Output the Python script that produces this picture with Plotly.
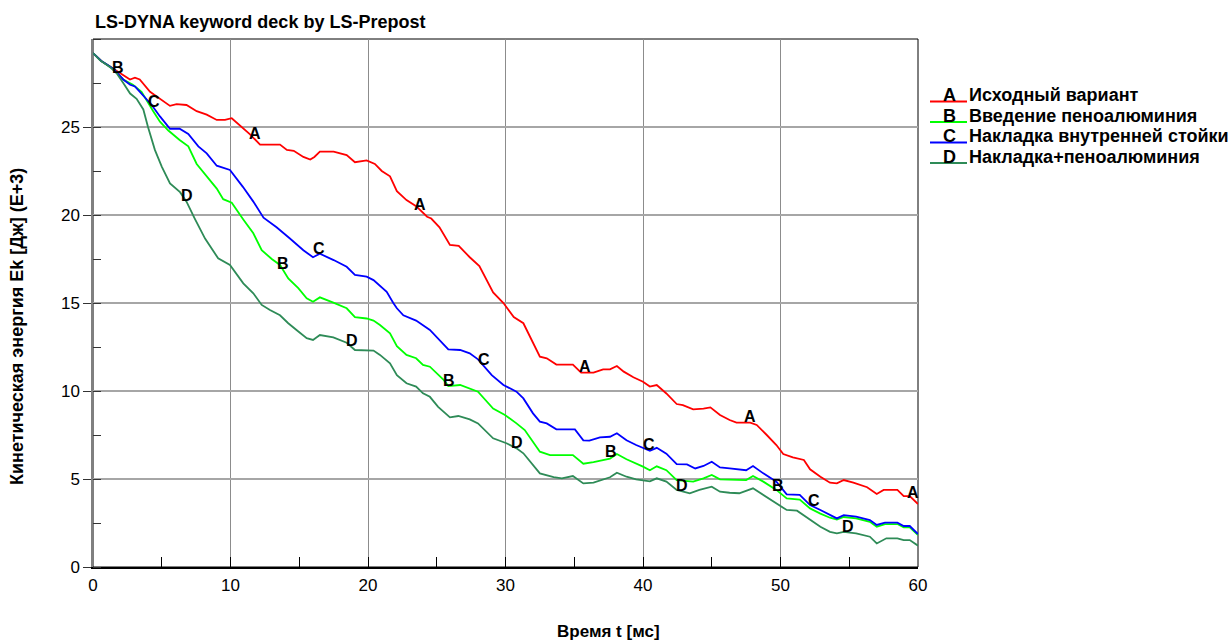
import numpy as np
import plotly.graph_objects as go

# Kinetic energy histories (E+3 J) vs time (ms) for four design variants
t_a = [0, 0.6, 1.2, 1.72, 2.69, 3.05, 3.4, 4.15, 4.87, 5.6, 6.08, 6.8, 7.54, 8.27, 9.0,
       9.6, 10.09, 10.7, 11.4, 12.15, 13.6, 14.1, 14.6, 15.3, 15.8, 16.1, 16.5, 17.5, 18.45, 19.05,
       19.9, 20.5, 21.0, 21.6, 22.1, 22.8, 23.5, 24.3, 24.6, 25.2, 25.96, 26.6, 27.4, 28.1, 29.1,
       29.85, 30.6, 31.3, 32.5, 33.0, 33.7, 34.9, 35.5, 36.4, 37.1, 37.6, 38.1, 38.6, 39.3, 40.0,
       40.5, 41.0, 41.7, 42.45, 42.9, 43.65, 44.4, 44.9, 45.6, 46.3, 46.8, 47.8, 48.27, 49.0, 49.7,
       50.2, 50.9, 51.7, 52.15, 52.9, 53.6, 54.1, 54.6, 55.3, 56.3, 57.0, 57.5, 58.5, 58.96, 59.4, 60]
e_a = [29.2, 28.75, 28.45, 28.2, 27.7, 27.8, 27.7, 27.0, 26.6, 26.2, 26.3, 26.25, 25.9, 25.7, 25.4,
       25.4, 25.5, 25.1, 24.6, 24.0, 24.0, 23.7, 23.65, 23.3, 23.15, 23.3, 23.6, 23.6, 23.4, 23.0,
       23.1, 22.9, 22.5, 22.2, 21.35, 20.85, 20.5, 19.9, 19.8, 19.3, 18.3, 18.25, 17.6, 17.1, 15.6,
       15.0, 14.2, 13.85, 11.95, 11.86, 11.5, 11.5, 11.04, 11.04, 11.23, 11.23, 11.42, 11.1, 10.78, 10.53,
       10.25, 10.34, 9.86, 9.26, 9.2, 8.96, 9.0, 9.07, 8.64, 8.35, 8.2, 8.2, 8.07, 7.5, 6.93,
       6.42, 6.23, 6.08, 5.55, 5.13, 4.79, 4.75, 4.94, 4.79, 4.53, 4.15, 4.38, 4.38, 4.03, 4.03, 3.58]

t_b = [0, 0.6, 1.2, 1.48, 2.2, 2.9, 3.53, 3.9, 4.38, 4.87, 5.48, 6.3, 6.93, 7.54, 8.27,
       9.0, 9.47, 10.09, 10.93, 11.66, 12.27, 13.0, 13.6, 14.2, 14.93, 15.54, 16.0, 16.5, 17.48, 18.45,
       19.05, 19.9, 20.4, 20.87, 21.6, 22.1, 22.8, 23.5, 24.0, 24.5, 25.5, 25.84, 26.7, 27.3, 28.0,
       29.1, 29.96, 30.8, 31.4, 32.5, 33.24, 34.9, 35.66, 36.4, 37.6, 38.1, 38.8, 40.0, 40.5, 41.0,
       41.7, 42.45, 43.65, 44.4, 45.0, 45.6, 47.5, 48.0, 48.75, 49.7, 50.45, 51.4, 52.15, 52.9, 53.6,
       54.1, 54.6, 55.5, 56.5, 57.0, 57.6, 58.5, 58.96, 59.4, 60]
e_b = [29.2, 28.75, 28.45, 28.3, 27.7, 27.4, 27.0, 26.5, 25.9, 25.3, 24.8, 24.26, 23.9, 22.9, 22.2,
       21.5, 20.9, 20.7, 19.75, 18.96, 18.0, 17.5, 17.16, 16.4, 15.84, 15.27, 15.07, 15.32, 15.02, 14.7,
       14.2, 14.12, 14.0, 13.75, 13.28, 12.55, 12.05, 11.86, 11.48, 11.38, 10.63, 10.28, 10.34, 10.15, 9.96,
       9.0, 8.64, 8.16, 7.78, 6.55, 6.36, 6.36, 5.87, 5.96, 6.16, 6.42, 6.12, 5.7, 5.5, 5.72,
       5.5, 4.94, 4.85, 5.04, 5.23, 4.98, 4.94, 5.17, 4.85, 4.38, 3.9, 3.83, 3.33, 3.03, 2.8,
       2.69, 2.84, 2.76, 2.57, 2.29, 2.44, 2.44, 2.25, 2.25, 1.82]

t_c = [0, 0.6, 1.2, 1.48, 2.2, 2.7, 3.05, 3.66, 4.27, 4.87, 5.6, 6.3, 6.93, 7.66, 8.27,
       9.0, 9.96, 10.9, 11.66, 12.4, 13.35, 14.3, 15.3, 16.0, 16.5, 17.5, 18.45, 19.05, 19.9, 20.4,
       20.87, 21.36, 21.84, 22.1, 22.57, 23.5, 24.5, 25.2, 25.84, 26.7, 27.4, 28.0, 29.0, 29.85, 30.8,
       31.3, 32.0, 32.5, 33.0, 33.7, 35.05, 35.66, 36.1, 36.87, 37.6, 38.1, 38.8, 39.5, 40.5, 41.0,
       41.7, 42.45, 43.2, 43.8, 44.4, 45.0, 45.6, 46.3, 47.5, 48.0, 48.75, 49.7, 50.45, 51.4, 52.15,
       52.9, 53.6, 54.1, 54.6, 55.5, 56.5, 57.0, 57.6, 58.5, 58.96, 59.4, 60]
e_c = [29.2, 28.75, 28.45, 28.3, 27.7, 27.4, 27.3, 26.8, 26.25, 25.6, 24.9, 24.9, 24.6, 23.9, 23.5,
       22.8, 22.56, 21.6, 20.76, 19.85, 19.3, 18.68, 18.0, 17.6, 17.8, 17.44, 17.06, 16.6, 16.5, 16.3,
       16.0, 15.64, 15.0, 14.7, 14.3, 14.0, 13.47, 12.9, 12.37, 12.33, 12.14, 11.8, 10.9, 10.34, 9.96,
       9.58, 8.73, 8.26, 8.16, 7.82, 7.82, 7.2, 7.18, 7.37, 7.4, 7.6, 7.2, 6.93, 6.6, 6.77,
       6.44, 5.85, 5.83, 5.6, 5.74, 5.98, 5.66, 5.6, 5.5, 5.74, 5.32, 4.85, 4.13, 4.1, 3.52,
       3.24, 2.95, 2.76, 2.95, 2.86, 2.67, 2.39, 2.52, 2.52, 2.33, 2.33, 1.87]

t_d = [0, 0.5, 1.24, 1.72, 2.2, 2.7, 3.17, 3.66, 4.0, 4.5, 5.0, 5.6, 6.33, 6.8, 7.4,
       8.15, 9.1, 9.96, 10.93, 11.66, 12.27, 12.87, 13.6, 14.2, 14.8, 15.54, 16.0, 16.5, 17.48, 18.45,
       19.05, 19.9, 20.4, 20.87, 21.6, 22.1, 22.8, 23.5, 24.0, 24.5, 25.1, 25.96, 26.57, 27.4, 28.0,
       29.1, 30.07, 30.8, 31.3, 32.5, 33.5, 34.1, 34.9, 35.66, 36.4, 37.6, 38.1, 38.8, 39.5, 40.5,
       41.0, 41.7, 42.45, 43.4, 44.1, 45.0, 45.6, 46.3, 47.0, 48.0, 48.75, 49.7, 50.45, 51.2, 52.15,
       52.9, 53.6, 54.1, 54.6, 55.5, 56.5, 57.0, 57.7, 58.5, 58.96, 59.4, 60]
e_d = [29.2, 28.8, 28.4, 28.05, 27.5, 26.9, 26.6, 26.0, 25.0, 23.7, 22.75, 21.8, 21.3, 20.76, 19.8,
       18.66, 17.54, 17.16, 16.12, 15.55, 14.89, 14.6, 14.3, 13.85, 13.47, 13.0, 12.9, 13.18, 13.05, 12.74,
       12.33, 12.33, 12.3, 12.05, 11.57, 10.9, 10.44, 10.25, 9.87, 9.67, 9.1, 8.5, 8.58, 8.39, 8.16,
       7.31, 7.03, 6.74, 6.46, 5.32, 5.1, 5.04, 5.17, 4.75, 4.79, 5.1, 5.36, 5.13, 4.98, 4.87,
       5.04, 4.85, 4.38, 4.19, 4.38, 4.56, 4.28, 4.22, 4.19, 4.47, 4.1, 3.6, 3.24, 3.2, 2.67,
       2.29, 2.0, 1.91, 2.0, 1.91, 1.72, 1.34, 1.63, 1.63, 1.53, 1.53, 1.21]

series_letters = ["A", "B", "C", "D"]
series_names = ["Исходный вариант", "Введение пеноалюминия",
                "Накладка внутренней стойки", "Накладка+пеноалюминия"]
series_colors = ["#ff0000", "#00ff00", "#0000ff", "#2e8b57"]
series_t = [t_a, t_b, t_c, t_d]
series_e = [e_a, e_b, e_c, e_d]

# times at which the curve letters are stamped along each curve
label_t_a = [11.8, 23.8, 35.8, 47.8, 59.6]
label_t_b = [1.8, 13.8, 25.9, 37.7, 49.8]
label_t_c = [4.4, 16.4, 28.4, 40.4, 52.4]
label_t_d = [6.8, 18.8, 30.8, 42.8, 54.9]
label_ts = [label_t_a, label_t_b, label_t_c, label_t_d]

x_ticks = [0, 10, 20, 30, 40, 50, 60]
y_ticks = [0, 5, 10, 15, 20, 25]

title_text = "LS-DYNA keyword deck by LS-Prepost"
x_title = "Время t [мс]"
y_title = "Кинетическая энергия Ek [Дж] (E+3)"

FONT = "Liberation Sans, Arial, sans-serif"

# page geometry (pixels)
W, H = 1232, 642
L, R, T, B = 93, 918, 39, 567


def px_x(x):
    return (x - L) / (R - L)


def px_y(y):
    return (B - y) / (B - T)


fig = go.Figure()

for letters, t, e, col in zip(series_letters, series_t, series_e, series_colors):
    fig.add_trace(go.Scatter(x=t, y=e, mode="lines",
                             line=dict(color=col, width=1.8),
                             name=letters, showlegend=False, hoverinfo="skip"))

annotations = []
for letter, t, e, lts in zip(series_letters, series_t, series_e, label_ts):
    ys = np.interp(lts, t, e)
    for xv, yv in zip(lts, ys):
        annotations.append(dict(x=xv, y=float(yv), xref="x", yref="y", text=f"<b>{letter}</b>",
                                showarrow=False, yshift=6,
                                font=dict(family=FONT, size=16, color="black")))

shapes = [
    # plot frame
    dict(type="rect", xref="paper", yref="paper", x0=0, x1=1, y0=0, y1=1,
         line=dict(color="black", width=1), layer="below"),
]

# legend block on the right
row_y = [95, 115.5, 136, 156.5]
for letter, name, col, ry in zip(series_letters, series_names, series_colors, row_y):
    shapes.append(dict(type="line", xref="paper", yref="paper",
                       x0=px_x(930), x1=px_x(967), y0=px_y(ry + 6.5), y1=px_y(ry + 6.5),
                       line=dict(color=col, width=1.8)))
    annotations.append(dict(x=px_x(949), y=px_y(ry), xref="paper", yref="paper",
                            text=f"<b>{letter}</b>", showarrow=False, xanchor="center", yanchor="middle",
                            font=dict(family=FONT, size=18, color="black")))
    annotations.append(dict(x=px_x(967), y=px_y(ry), xref="paper", yref="paper",
                            text=f"<b>{name}</b>", showarrow=False, xanchor="left", yanchor="middle",
                            font=dict(family=FONT, size=18, color="black")))

annotations.append(dict(x=0, y=px_y(22), xref="paper", yref="paper", text=f"<b>{title_text}</b>",
                        showarrow=False, xanchor="left", yanchor="middle",
                        font=dict(family=FONT, size=18, color="black")))
annotations.append(dict(x=px_x(608), y=px_y(631), xref="paper", yref="paper", text=f"<b>{x_title}</b>",
                        showarrow=False, xanchor="center", yanchor="middle",
                        font=dict(family=FONT, size=17, color="black")))
annotations.append(dict(x=px_x(17), y=px_y(327), xref="paper", yref="paper", text=f"<b>{y_title}</b>",
                        showarrow=False, xanchor="center", yanchor="middle", textangle=-90,
                        font=dict(family=FONT, size=18, color="black")))

fig.update_layout(
    width=W, height=H,
    margin=dict(l=L, r=W - R, t=T, b=H - B, pad=0),
    paper_bgcolor="white", plot_bgcolor="white",
    showlegend=False,
    annotations=annotations,
    shapes=shapes,
    xaxis=dict(range=[0, 60], tickvals=x_ticks, ticks="inside", ticklen=10, tickcolor="black",
               showgrid=True, gridcolor="#8c8c8c", gridwidth=1,
               showline=True, linecolor="black", linewidth=1.5,
               zeroline=False,
               tickfont=dict(family=FONT, size=17, color="black"),
               ticklabelstandoff=2,
               minor=dict(dtick=5, ticks="inside", ticklen=10, tickcolor="black", showgrid=False)),
    yaxis=dict(range=[0, 30], tickvals=y_ticks, ticks="outside", ticklen=8, tickcolor="#333333",
               showgrid=True, gridcolor="#a6a6a6", gridwidth=1.5,
               showline=True, linecolor="#808080", linewidth=1.5,
               zeroline=False,
               tickfont=dict(family=FONT, size=17, color="black"),
               minor=dict(dtick=2.5, ticks="inside", ticklen=8, tickcolor="#333333", showgrid=False)),
)

fig.write_html("out.html")
